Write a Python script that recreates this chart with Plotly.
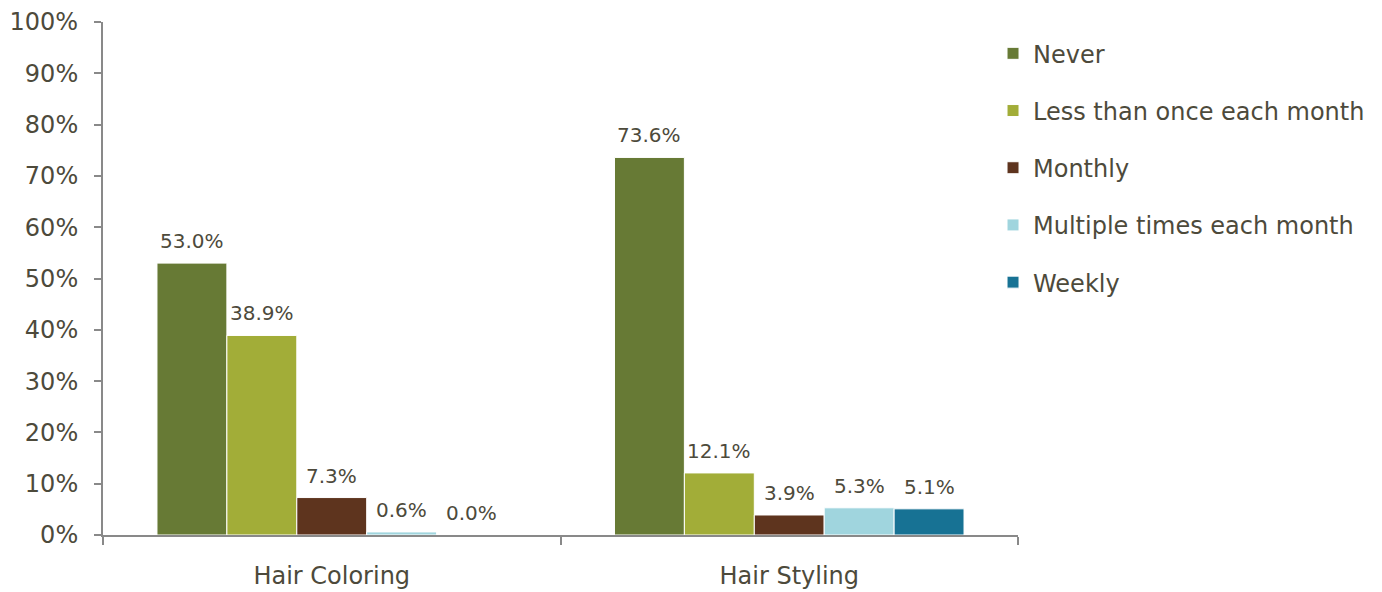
import plotly.graph_objects as go

categories = ["Hair Coloring", "Hair Styling"]
series_names = ["Never", "Less than once each month", "Monthly",
                "Multiple times each month", "Weekly"]
series_values = [
    [0.530, 0.736],
    [0.389, 0.121],
    [0.073, 0.039],
    [0.006, 0.053],
    [0.000, 0.051],
]
series_colors = ["#677A35", "#A2AD38", "#5E341E", "#A0D5DE", "#177294"]
y_ticks = [i / 10 for i in range(11)]

text_color = "#4D4A3B"
axis_color = "#898989"
font_family = "DejaVu Sans, Verdana, sans-serif"
bar_gap = 0.236

fig = go.Figure()
for i, (name, vals, color) in enumerate(zip(series_names, series_values, series_colors)):
    fig.add_trace(go.Bar(
        name=name,
        x=categories,
        y=vals,
        marker=dict(color=color, line=dict(color="white", width=1)),
        legendgroup=f"g{i}",
    ))

# value labels above each bar, centred on the bar's slot within its group
n_series = len(series_names)
slot = (1 - bar_gap) / n_series
annotations = []
for i, vals in enumerate(series_values):
    for c, v in enumerate(vals):
        annotations.append(dict(
            x=c + (i - (n_series - 1) / 2) * slot,
            y=v,
            xref="x", yref="y",
            text=f"{v * 100:.1f}%",
            showarrow=False,
            yanchor="bottom",
            yshift=8,
            font=dict(size=20, color=text_color, family=font_family),
        ))

fig.update_layout(
    barmode="group",
    bargap=bar_gap,
    bargroupgap=0,
    width=1382,
    height=592,
    margin=dict(l=103, r=364, t=22, b=57, autoexpand=False),
    paper_bgcolor="white",
    plot_bgcolor="white",
    font=dict(family=font_family, size=24, color=text_color),
    showlegend=True,
    annotations=annotations,
    legend=dict(
        x=0.9727, y=0.982, xanchor="left", yanchor="top",
        font=dict(size=24, color=text_color, family=font_family),
        tracegroupgap=23,
        itemwidth=30,
        bgcolor="rgba(0,0,0,0)",
    ),
    xaxis=dict(
        showline=True, linecolor=axis_color, linewidth=2,
        ticks="outside", tickson="boundaries", ticklen=8,
        tickcolor=axis_color, tickwidth=2,
        showgrid=False, automargin=False,
        ticklabelstandoff=18,
        tickfont=dict(size=24, color=text_color),
    ),
    yaxis=dict(
        range=[0, 1],
        tickvals=y_ticks,
        tickformat=".0%",
        showline=True, linecolor=axis_color, linewidth=2,
        ticks="outside", ticklen=7, tickcolor=axis_color, tickwidth=2,
        showgrid=False, zeroline=False, automargin=False,
        ticklabelstandoff=11,
        tickfont=dict(size=24, color=text_color),
    ),
)

fig.write_html("out.html")
